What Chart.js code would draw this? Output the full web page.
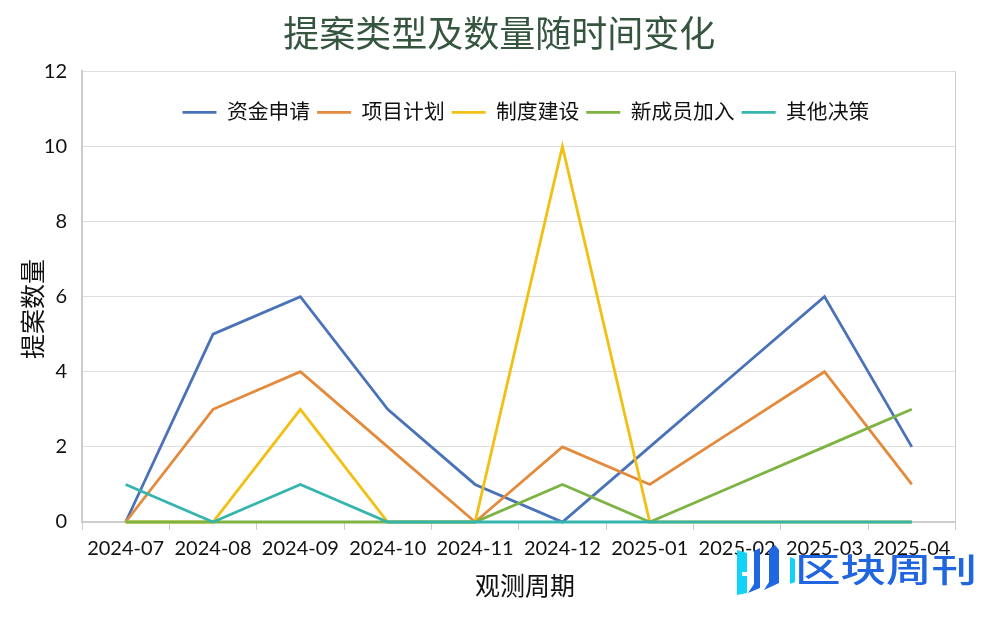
<!DOCTYPE html>
<html>
<head>
<meta charset="utf-8">
<style>
html, body { margin: 0; padding: 0; background: #fff; }
#wrap { position: relative; width: 1000px; height: 636px; overflow: hidden; }
#logo { position: absolute; left: 737px; top: 544px; }
#mark { position: absolute; left: 795px; top: 546px; font: 500 33px/44px "Noto Sans CJK SC"; color: #1f66e0; transform: scaleX(1.38); transform-origin: left top; }
</style>
<script src="https://cdn.jsdelivr.net/npm/chart.js@4"></script>
</head>
<body>
<div id="wrap">
<canvas id="chart" width="1000" height="636"></canvas>
<svg id="logo" width="60" height="54">
  <path d="M0 6 L10 9 L10 28 L5 28 L5 32 L10 32 L10 49 L0 51 Z" fill="#12d2f7"/>
  <path d="M17 7 L23 4 L23 44 L11 49 L17 40 Z M32 6 L38 1 L42 6 L42 39 L27 46 L32 38 Z" fill="#1f66e0"/>
  <path d="M53 13 L58 15 L58 38 L53 40 Z" fill="#12d2f7"/>
</svg>
<div id="mark">区块周刊</div>
</div>
<script>
var FONT = 'Lato, "Noto Sans CJK SC", sans-serif';
var months = ['2024-07','2024-08','2024-09','2024-10','2024-11','2024-12','2025-01','2025-02','2025-03','2025-04'];
var funding = [0,5,6,3,1,0,2,4,6,2];
var projects = [0,3,4,2,0,2,1,2.5,4,1];
var governance = [0,0,3,0,0,10,0,0,0,0];
var members = [0,0,0,0,0,1,0,1,2,3];
var others = [1,0,1,0,0,0,0,0,0,0];

function line(label, data, color, order) {
    return { label: label, data: data, borderColor: color, backgroundColor: color,
        borderWidth: 2.8, pointRadius: 0, tension: 0, order: order, clip: false };
}

// legend sits inside the plot, so it takes no layout room and is moved afterwards
var legendInPlot = {
    id: 'legendInPlot',
    beforeLayout: function(chart) {
        var legend = chart.legend;
        var fit = legend.fit;
        legend.fit = function() {
            fit.call(legend);
            legend.height = 0;
        };
    },
    afterLayout: function(chart) {
        var legend = chart.legend;
        legend.left = 175.5;
        legend.right = 955;
        legend.top = 95;
        legend.bottom = 135;
        legend.height = 40;
        legend.width = 780;
        // title is centred on the page, not between the paddings
        chart.titleBlock.left += 12;
        chart.titleBlock.right += 12;
    }
};

new Chart(document.getElementById('chart'), {
    type: 'line',
    data: {
        labels: months,
        datasets: [
            line('资金申请', funding, '#4a72b8', 5),
            line('项目计划', projects, '#e38a3c', 4),
            line('制度建设', governance, '#f2c014', 3),
            line('新成员加入', members, '#7cb342', 2),
            line('其他决策', others, '#35b5ad', 1)
        ]
    },
    plugins: [legendInPlot],
    options: {
        responsive: false,
        animation: false,
        layout: { padding: { left: 19, right: 44.5, top: 14, bottom: 34 } },
        plugins: {
            title: { display: true, text: '提案类型及数量随时间变化', color: '#35553f',
                font: { family: FONT, size: 36, weight: '400' }, padding: { top: 0, bottom: 14 } },
            legend: {
                position: 'top', align: 'start',
                labels: { boxWidth: 34, boxHeight: 0, padding: 7, color: '#111',
                    font: { family: FONT, size: 20.8 },
                    sort: function(a, b) { return a.datasetIndex - b.datasetIndex; } }
            }
        },
        scales: {
            x: {
                offset: true,
                afterFit: function(scale) { scale.height = 80; },
                grid: {
                    offset: true,
                    color: function(ctx) { return ctx.tick ? 'transparent' : '#cccccc'; },
                    tickColor: '#cccccc', tickLength: 8
                },
                border: { color: '#cccccc', width: 2 },
                ticks: { color: '#111', font: { family: FONT, size: 20 }, maxRotation: 0, autoSkip: false, padding: 6.5 },
                title: { display: true, text: '\u2002观测周期', color: '#111', font: { family: FONT, size: 25 }, padding: { top: 12, bottom: 0 } }
            },
            y: {
                min: 0, max: 12,
                afterFit: function(scale) { scale.width = 63; },
                grid: { color: '#dedede', tickLength: 0 },
                border: { color: '#cccccc', width: 2 },
                ticks: { stepSize: 2, color: '#111', font: { family: FONT, size: 20 }, padding: 15 },
                title: { display: true, text: '提案数量\u3000', color: '#111', font: { family: FONT, size: 25 }, padding: 0 }
            }
        }
    }
});
</script>
</body>
</html>
